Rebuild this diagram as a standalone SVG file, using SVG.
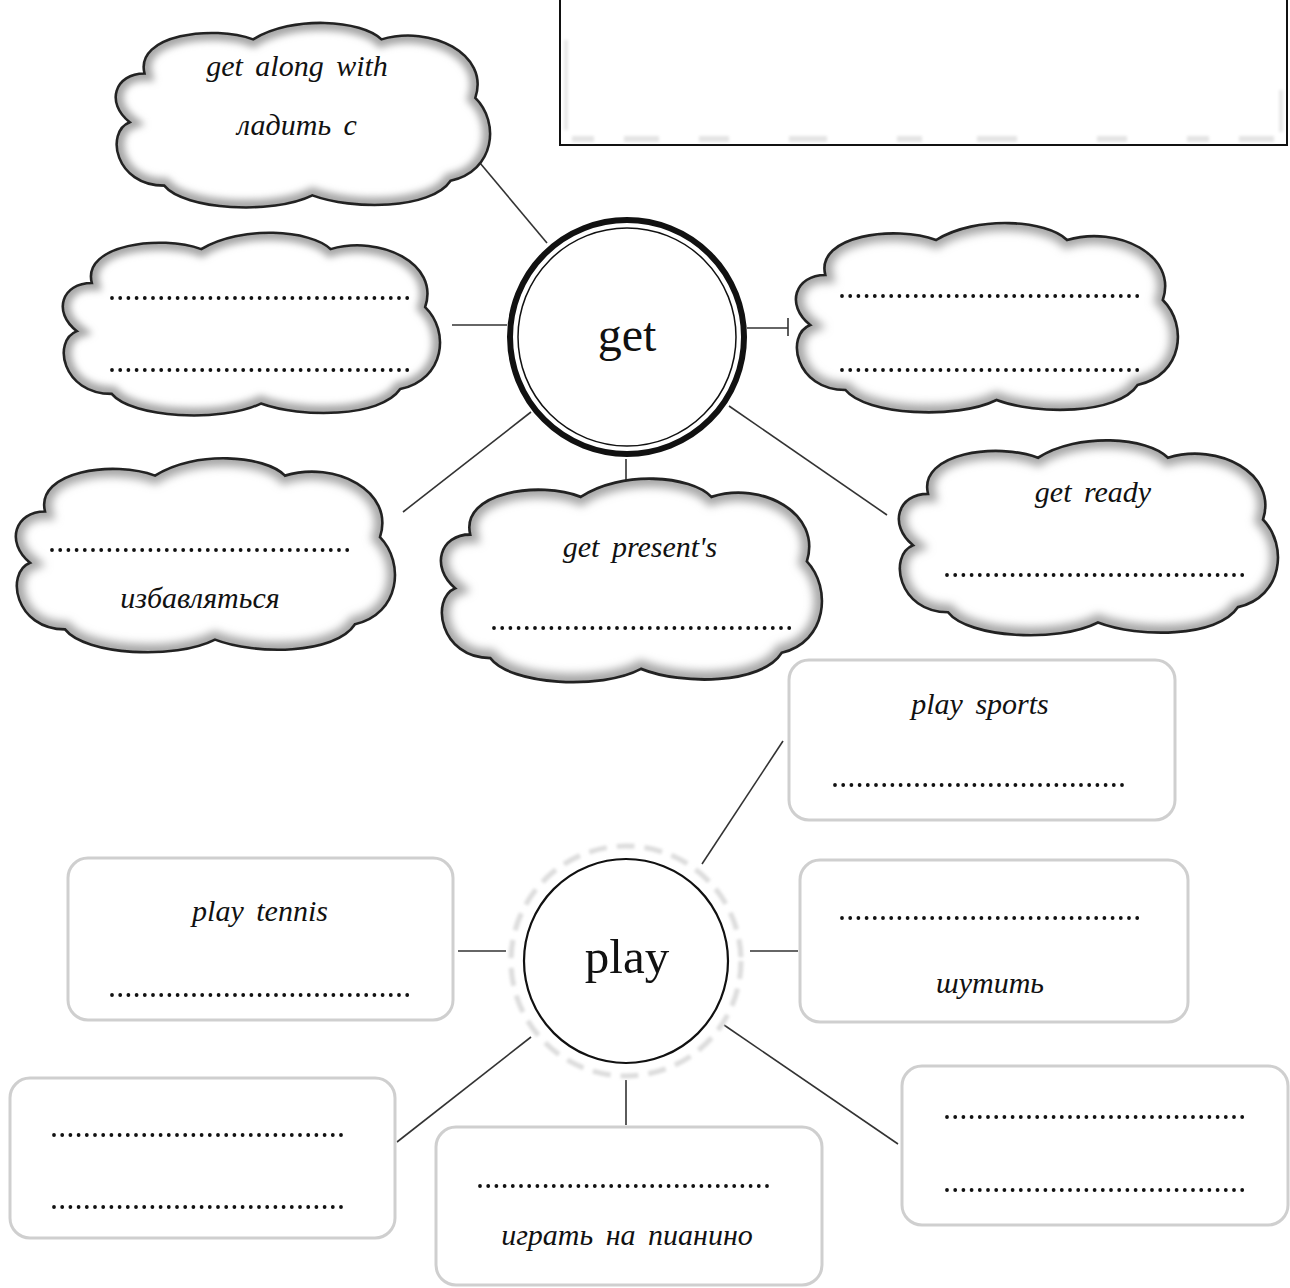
<svg xmlns="http://www.w3.org/2000/svg" xmlns:xlink="http://www.w3.org/1999/xlink" width="1290" height="1288" viewBox="0 0 1290 1288">
<style>
.lbl{font-family:"Liberation Serif","Times New Roman",serif;font-style:italic;font-size:30px;fill:#111;text-anchor:middle;word-spacing:5px}
.hub{font-family:"Liberation Serif","Times New Roman",serif;fill:#111;text-anchor:middle}
.dots{stroke:#111;stroke-width:3.8;stroke-linecap:round;stroke-dasharray:0 8.2;fill:none}
.conn{stroke:#333;stroke-width:1.6;fill:none}
.box{fill:#fff;stroke:#cfcfcf;stroke-width:3}
</style>
<defs>
<filter id="blur4" x="-10%" y="-10%" width="120%" height="120%"><feGaussianBlur stdDeviation="4"/></filter>
<filter id="blur1" x="-5%" y="-5%" width="110%" height="110%"><feGaussianBlur stdDeviation="0.7"/></filter>
<filter id="blurU" filterUnits="userSpaceOnUse" x="0" y="0" width="1290" height="1288"><feGaussianBlur stdDeviation="1.5"/></filter>
<clipPath id="cloudClip"><path d="M 40 60 C 30 20, 110 10, 150 25 C 190 0, 260 5, 280 25 C 330 10, 390 40, 375 85 C 400 110, 395 160, 350 170 C 330 200, 250 200, 210 185 C 170 205, 80 200, 60 175 C 10 175, 0 120, 25 110 C 0 90, 10 60, 40 60 Z"/></clipPath>
<g id="cloud">
<path d="M 40 60 C 30 20, 110 10, 150 25 C 190 0, 260 5, 280 25 C 330 10, 390 40, 375 85 C 400 110, 395 160, 350 170 C 330 200, 250 200, 210 185 C 170 205, 80 200, 60 175 C 10 175, 0 120, 25 110 C 0 90, 10 60, 40 60 Z" fill="#fff"/>
<path d="M 40 60 C 30 20, 110 10, 150 25 C 190 0, 260 5, 280 25 C 330 10, 390 40, 375 85 C 400 110, 395 160, 350 170 C 330 200, 250 200, 210 185 C 170 205, 80 200, 60 175 C 10 175, 0 120, 25 110 C 0 90, 10 60, 40 60 Z" fill="none" stroke="#a8a8a8" stroke-width="16" filter="url(#blur4)" clip-path="url(#cloudClip)"/>
<path d="M 40 60 C 30 20, 110 10, 150 25 C 190 0, 260 5, 280 25 C 330 10, 390 40, 375 85 C 400 110, 395 160, 350 170 C 330 200, 250 200, 210 185 C 170 205, 80 200, 60 175 C 10 175, 0 120, 25 110 C 0 90, 10 60, 40 60 Z" fill="none" stroke="#222" stroke-width="2.6" filter="url(#blur1)"/>
</g>
</defs>
<rect width="1290" height="1288" fill="#fff"/>

<g id="top-box">
<rect x="560" y="-5" width="727" height="150" fill="#fff" stroke="#111" stroke-width="2"/>
<path d="M 572 139 H 1280" stroke="#e4e4e4" stroke-width="6" stroke-dasharray="22 30 35 40 30 60 38 70 25 55 40 80 30 60" filter="url(#blurU)"/>
<path d="M 566 40 V 130 M 1281 90 V 132" stroke="#e8e8e8" stroke-width="4" filter="url(#blurU)"/>
</g>

<g id="connectors">
<line class="conn" x1="480" y1="163" x2="547" y2="243"/>
<line class="conn" x1="452" y1="325" x2="507" y2="325"/>
<line class="conn" x1="747" y1="328" x2="788" y2="328"/>
<line class="conn" x1="788" y1="318" x2="788" y2="336"/>
<line class="conn" x1="403" y1="512" x2="531" y2="412"/>
<line class="conn" x1="626" y1="459" x2="626" y2="487"/>
<line class="conn" x1="729" y1="406" x2="887" y2="515"/>
<line class="conn" x1="702" y1="864" x2="783" y2="741"/>
<line class="conn" x1="458" y1="951" x2="506" y2="951"/>
<line class="conn" x1="750" y1="951" x2="798" y2="951"/>
<line class="conn" x1="397" y1="1142" x2="531" y2="1037"/>
<line class="conn" x1="626" y1="1080" x2="626" y2="1125"/>
<line class="conn" x1="724" y1="1025" x2="898" y2="1144"/>
</g>

<g id="hub-get">
<circle cx="627" cy="337" r="117" fill="#fff" stroke="#111" stroke-width="6"/>
<circle cx="627" cy="337" r="109" fill="none" stroke="#111" stroke-width="1.5"/>
<text class="hub" x="627" y="351" font-size="48">get</text>
</g>

<g id="hub-play">
<circle cx="626" cy="961" r="115" fill="none" stroke="#dcdcdc" stroke-width="5" stroke-dasharray="18 10" filter="url(#blurU)"/>
<circle cx="626" cy="961" r="102" fill="#fff" stroke="#111" stroke-width="2.2"/>
<text class="hub" x="627" y="973" font-size="49">play</text>
</g>

<g id="cloud-get-along">
<use xlink:href="#cloud" transform="translate(105,15) scale(0.9875,0.975)"/>
<text class="lbl" x="297" y="76">get along with</text>
<text class="lbl" x="297" y="135">ладить с</text>
</g>

<g id="cloud-left">
<use xlink:href="#cloud" transform="translate(52,225) scale(0.995,0.965)"/>
<line class="dots" x1="112" y1="298" x2="408" y2="298"/>
<line class="dots" x1="112" y1="370" x2="408" y2="370"/>
</g>

<g id="cloud-right">
<use xlink:href="#cloud" transform="translate(785,215) scale(1.0075,1.0)"/>
<line class="dots" x1="842" y1="296" x2="1138" y2="296"/>
<line class="dots" x1="842" y1="370" x2="1138" y2="370"/>
</g>

<g id="cloud-get-rid">
<use xlink:href="#cloud" transform="translate(5,450) scale(1.0,1.025)"/>
<line class="dots" x1="52" y1="550" x2="348" y2="550"/>
<text class="lbl" x="200" y="608">избавляться</text>
</g>

<g id="cloud-get-presents">
<use xlink:href="#cloud" transform="translate(430,470) scale(1.005,1.075)"/>
<text class="lbl" x="640" y="557">get present's</text>
<line class="dots" x1="494" y1="628" x2="790" y2="628"/>
</g>

<g id="cloud-get-ready">
<use xlink:href="#cloud" transform="translate(888,432) scale(1.0,1.03)"/>
<text class="lbl" x="1093" y="502">get ready</text>
<line class="dots" x1="947" y1="575" x2="1243" y2="575"/>
</g>

<g id="box-play-sports">
<rect class="box" x="789" y="660" width="386" height="160" rx="20" filter="url(#blur1)"/>
<text class="lbl" x="980" y="714">play sports</text>
<line class="dots" x1="835" y1="785" x2="1130" y2="785"/>
</g>

<g id="box-play-tennis">
<rect class="box" x="68" y="858" width="385" height="162" rx="20" filter="url(#blur1)"/>
<text class="lbl" x="260" y="921">play tennis</text>
<line class="dots" x1="112" y1="995" x2="408" y2="995"/>
</g>

<g id="box-joke">
<rect class="box" x="800" y="860" width="388" height="162" rx="20" filter="url(#blur1)"/>
<line class="dots" x1="842" y1="918" x2="1138" y2="918"/>
<text class="lbl" x="990" y="993">шутить</text>
</g>

<g id="box-bottom-left">
<rect class="box" x="10" y="1078" width="385" height="160" rx="20" filter="url(#blur1)"/>
<line class="dots" x1="54" y1="1135" x2="349" y2="1135"/>
<line class="dots" x1="54" y1="1207" x2="349" y2="1207"/>
</g>

<g id="box-piano">
<rect class="box" x="436" y="1127" width="386" height="158" rx="20" filter="url(#blur1)"/>
<line class="dots" x1="480" y1="1186" x2="775" y2="1186"/>
<text class="lbl" x="627" y="1245">играть на пианино</text>
</g>

<g id="box-bottom-right">
<rect class="box" x="902" y="1066" width="386" height="159" rx="20" filter="url(#blur1)"/>
<line class="dots" x1="947" y1="1117" x2="1243" y2="1117"/>
<line class="dots" x1="947" y1="1190" x2="1243" y2="1190"/>
</g>
</svg>
